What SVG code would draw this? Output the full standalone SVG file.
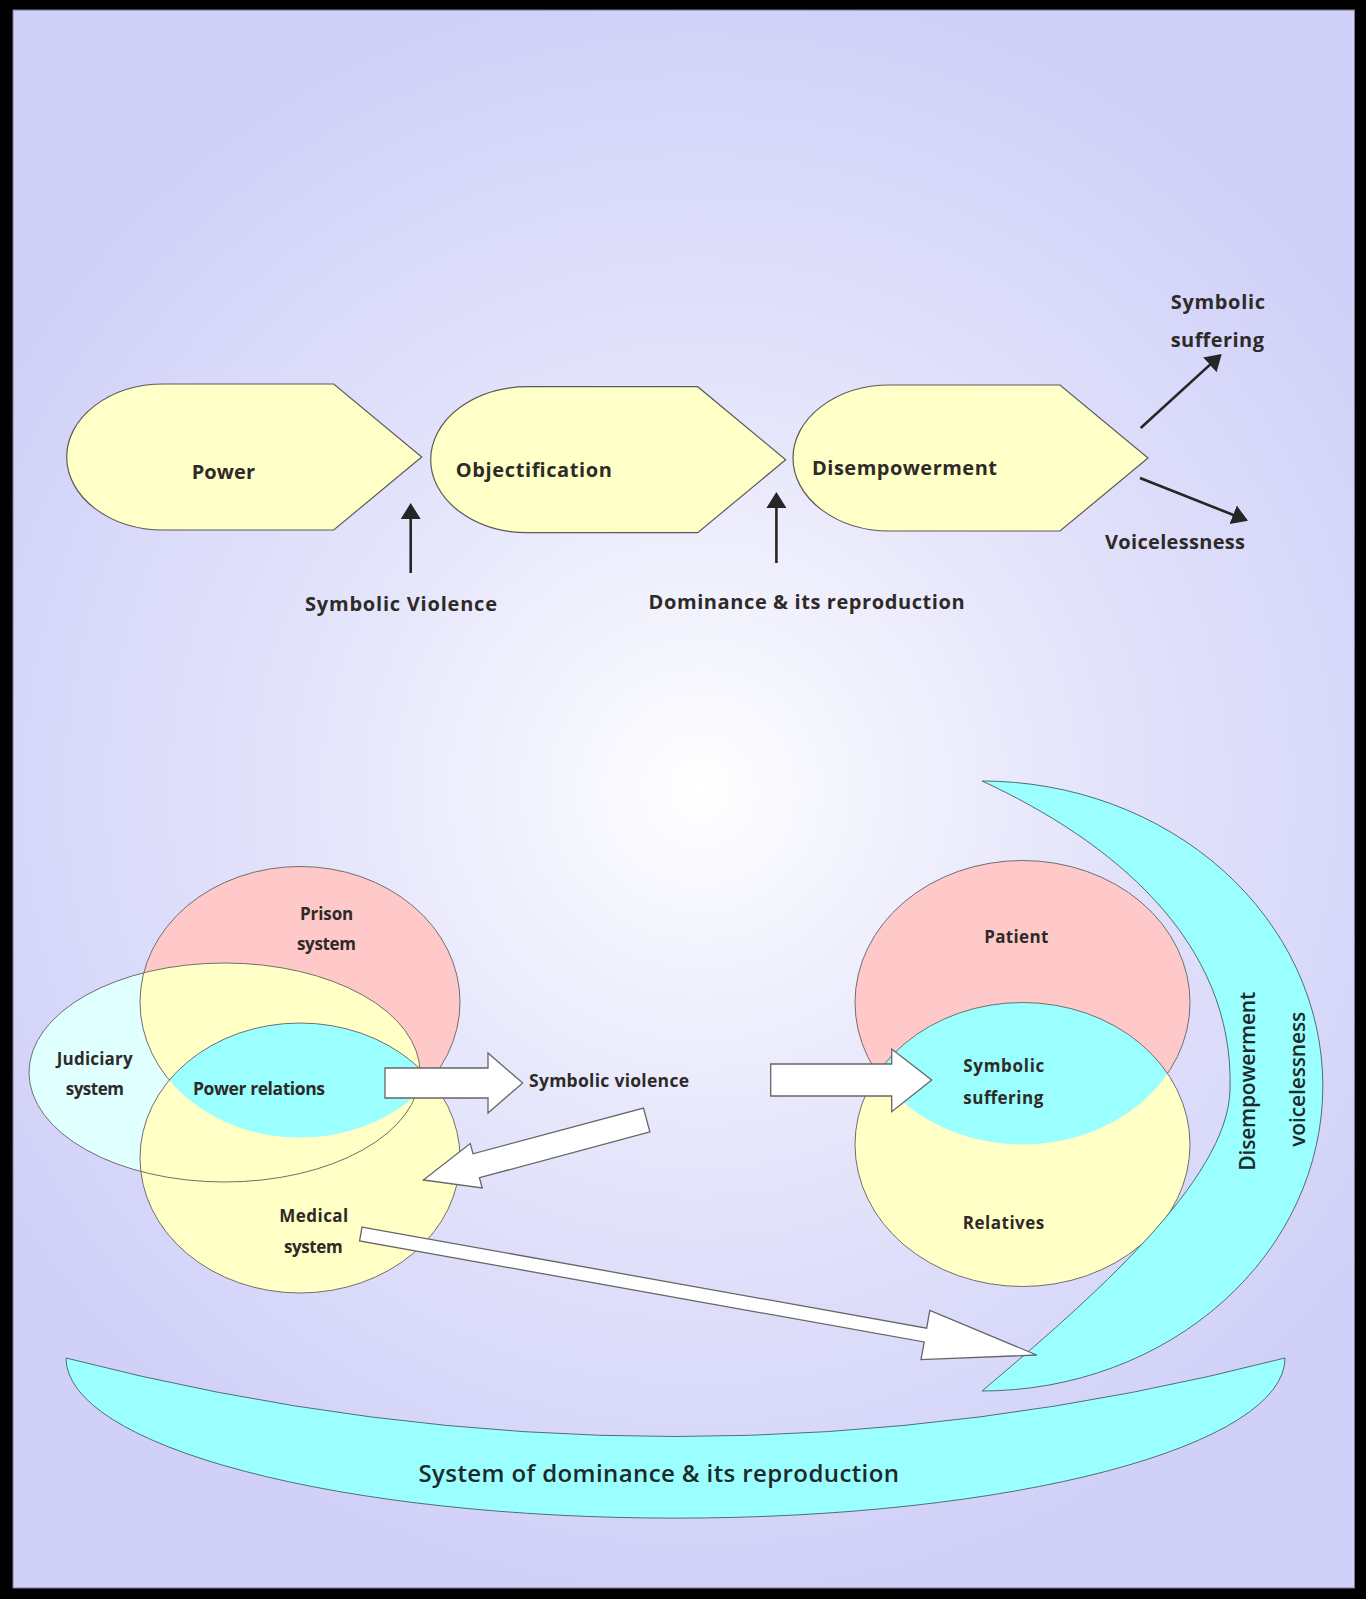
<svg xmlns="http://www.w3.org/2000/svg" width="1366" height="1599" viewBox="0 0 1366 1599">
  <defs>
    <radialGradient id="bg" gradientUnits="userSpaceOnUse" cx="700" cy="790" r="820">
      <stop offset="0" stop-color="#ffffff"/>
      <stop offset="0.15" stop-color="#f6f6fe"/>
      <stop offset="0.5" stop-color="#e3e3fb"/>
      <stop offset="0.85" stop-color="#d6d6fa"/>
      <stop offset="1" stop-color="#d0d0f8"/>
    </radialGradient>
    <marker id="ah" viewBox="0 0 16 20" refX="14" refY="10" markerWidth="16" markerHeight="20" markerUnits="userSpaceOnUse" orient="auto">
      <path d="M0,0 L16,10 L0,20 Z" fill="#262626"/>
    </marker>
    <path id="tag" d="M97,0 L267,0 L355,73 L267,146 L97,146 A97 73 0 0 1 97,0 Z"/>
    <ellipse id="eJud" cx="224.5" cy="1072.5" rx="195.5" ry="109.5"/>
    <ellipse id="ePri" cx="300" cy="1002" rx="160" ry="135.5"/>
    <ellipse id="eMed" cx="300" cy="1158" rx="160" ry="135"/>
    <ellipse id="ePat" cx="1022.5" cy="1002.5" rx="167.5" ry="142"/>
    <ellipse id="eRel" cx="1022.5" cy="1144.5" rx="167.5" ry="142"/>
    <clipPath id="cJud"><use href="#eJud"/></clipPath>
    <clipPath id="cPri"><use href="#ePri"/></clipPath>
    <clipPath id="cPat"><use href="#ePat"/></clipPath>
    <mask id="mNoMed" maskUnits="userSpaceOnUse" x="0" y="0" width="1366" height="1599">
      <rect width="1366" height="1599" fill="#fff"/>
      <use href="#eMed" fill="#000"/>
    </mask>
    <mask id="mNoRel" maskUnits="userSpaceOnUse" x="0" y="0" width="1366" height="1599">
      <rect width="1366" height="1599" fill="#fff"/>
      <use href="#eRel" fill="#000"/>
    </mask>
    <style>
      .lbl { font-family: "Open Sans", "Noto Sans", "DejaVu Sans", sans-serif; font-weight: 700; fill: #2e2a28; }
      .big { font-size: 20px; }
      .med { font-size: 17px; }
      .crs { font-family: "Open Sans", "Noto Sans", "DejaVu Sans", sans-serif; font-weight: 600; fill: #1c2a2a; font-size: 21px; }
      .crsbig { font-size: 24px; }
      .tagshape { fill: #ffffc8; stroke: #5a5a5a; stroke-width: 1.2; }
      .line { fill: none; stroke: #262626; stroke-width: 2.6; marker-end: url(#ah); }
      .block { fill: #ffffff; stroke: #666666; stroke-width: 1.3; stroke-linejoin: miter; }
      .outline { fill: none; stroke: #6e6e6e; stroke-width: 1; }
      .cyanshape { fill: #9bffff; stroke: #4f6f70; stroke-width: 1; }
    </style>
  </defs>

  <!-- frame and background -->
  <rect x="0" y="0" width="1366" height="1599" fill="#000000"/>
  <rect x="13" y="10" width="1341.5" height="1578" fill="url(#bg)" stroke="#7c7c90" stroke-width="1"/>

  <!-- top row process shapes -->
  <g id="node-power">
    <use href="#tag" class="tagshape" transform="translate(66.7,384)"/>
    <text class="lbl big" x="191.7" y="479" textLength="63.3">Power</text>
  </g>
  <g id="node-objectification">
    <use href="#tag" class="tagshape" transform="translate(430.7,386.7)"/>
    <text class="lbl big" x="455.7" y="477" textLength="156.3">Objectification</text>
  </g>
  <g id="node-disempowerment">
    <use href="#tag" class="tagshape" transform="translate(793,385)"/>
    <text class="lbl big" x="812" y="475" textLength="185">Disempowerment</text>
  </g>
  <g id="label-symbolic-violence-top">
    <text class="lbl big" x="305" y="610.5" textLength="192">Symbolic Violence</text>
  </g>
  <g id="label-dominance-top">
    <text class="lbl big" x="648.6" y="609" textLength="316">Dominance &amp; its reproduction</text>
  </g>
  <g id="label-symbolic-suffering-top">
    <text class="lbl big" x="1170.7" y="309" textLength="94.3">Symbolic</text>
    <text class="lbl big" x="1170.7" y="346.5" textLength="93.3">suffering</text>
  </g>
  <g id="label-voicelessness-top">
    <text class="lbl big" x="1105" y="548.5" textLength="140">Voicelessness</text>
  </g>

  <!-- left Venn -->
  <g id="node-venn-systems">
    <use href="#eJud" fill="#e0ffff"/>
    <use href="#ePri" fill="#ffc9c9"/>
    <use href="#eMed" fill="#ffffc6"/>
    <use href="#ePri" fill="#ffffc6" clip-path="url(#cJud)"/>
    <use href="#eMed" fill="#9bffff" clip-path="url(#cPri)"/>
    <use href="#eJud" class="outline"/>
    <use href="#ePri" class="outline" mask="url(#mNoMed)"/>
    <use href="#eMed" class="outline"/>
    <text class="lbl med" x="300" y="920" textLength="53.3">Prison</text>
    <text class="lbl med" x="297" y="950" textLength="59">system</text>
    <text class="lbl med" x="56.7" y="1065" textLength="76">Judiciary</text>
    <text class="lbl med" x="65.7" y="1095" textLength="58.3">system</text>
    <text class="lbl" font-size="17.5" x="193" y="1095" textLength="132">Power relations</text>
    <text class="lbl med" x="279.3" y="1222.3" textLength="69">Medical</text>
    <text class="lbl med" x="284" y="1252.7" textLength="58.7">system</text>
  </g>

  <g id="label-symbolic-violence">
    <text class="lbl" font-size="17.5" x="529" y="1087" textLength="160">Symbolic violence</text>
  </g>

  <!-- right Venn -->
  <g id="node-venn-people">
    <use href="#ePat" fill="#ffc9c9"/>
    <use href="#eRel" fill="#ffffc6"/>
    <use href="#eRel" fill="#9bffff" clip-path="url(#cPat)"/>
    <use href="#ePat" class="outline" mask="url(#mNoRel)"/>
    <use href="#eRel" class="outline"/>
    <text class="lbl med" x="984.3" y="943.3" textLength="64">Patient</text>
    <text class="lbl med" x="963.3" y="1072.3" textLength="81">Symbolic</text>
    <text class="lbl med" x="963.3" y="1104.3" textLength="80">suffering</text>
    <text class="lbl med" x="962.7" y="1229.3" textLength="81.6">Relatives</text>
  </g>

  <!-- right crescent -->
  <g id="node-crescent-right">
    <path class="cyanshape" d="M982,781 A341 305 0 0 1 982,1391 C1090,1300 1228,1180 1230,1090 C1235,940 1110,840 982,781 Z"/>
    <text class="crs" transform="translate(1255,1170.7) rotate(-90)" x="0" y="0" textLength="179">Disempowerment</text>
    <text class="crs" transform="translate(1305,1146.7) rotate(-90)" x="0" y="0" textLength="135">voicelessness</text>
  </g>

  <!-- bottom crescent -->
  <g id="node-crescent-bottom">
    <path class="cyanshape" d="M66,1358 Q675,1515 1285,1358 A609 160 0 0 1 66,1358 Z"/>
    <text class="crs crsbig" x="418.5" y="1482" textLength="480.5">System of dominance &amp; its reproduction</text>
  </g>

  <!-- connectors -->
  <g id="connectors">
    <line class="line" x1="410.7" y1="573" x2="410.7" y2="505"/>
    <line class="line" x1="776.4" y1="563" x2="776.4" y2="494"/>
    <line class="line" x1="1140.7" y1="428" x2="1220.2" y2="355.4"/>
    <line class="line" x1="1140" y1="478" x2="1246.1" y2="520"/>
    <polygon class="block" points="385,1068 488,1068 488,1053 522.7,1083 488,1113 488,1098 385,1098"/>
    <polygon class="block" points="770.7,1064 891.7,1064 891.7,1049 931.7,1080 891.7,1111.7 891.7,1096 770.7,1096"/>
    <polygon class="block" transform="translate(646.7,1120) rotate(164.97)" points="0,-12.4 176.5,-12.4 176.5,-23 231.3,0 176.5,23 176.5,12.4 0,12.4"/>
    <polygon class="block" transform="translate(360.8,1234) rotate(10.15)" points="0,-7 573.6,-7 573.6,-25 686.6,0 573.6,25 573.6,7 0,7"/>
  </g>
</svg>
